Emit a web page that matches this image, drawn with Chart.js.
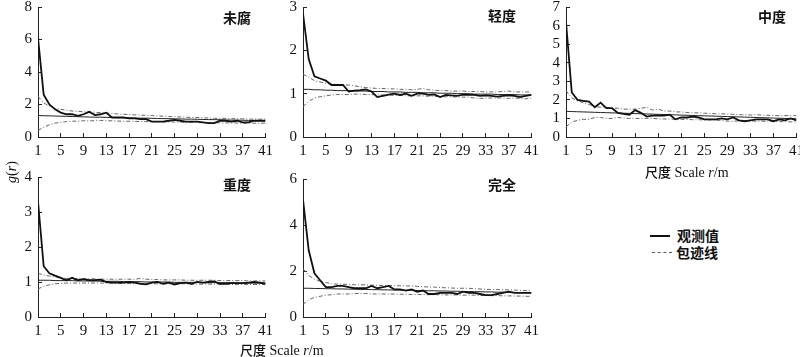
<!DOCTYPE html>
<html>
<head>
<meta charset="utf-8">
<script src="https://cdn.jsdelivr.net/npm/chart.js@4/dist/chart.umd.min.js"></script>
<style>
  html, body { margin: 0; padding: 0; background: #fff; }
  #wrap { position: relative; width: 800px; height: 357px; overflow: hidden; background: #fff; }
  canvas { position: absolute; }
  .t { position: absolute; color: #111; white-space: nowrap; }
  .ttl { font-family: "Noto Sans CJK SC", sans-serif; font-weight: 700; font-size: 14px; line-height: 16px; }
  .xt { font-family: "Liberation Serif", "Noto Sans CJK SC", serif; font-size: 14px; line-height: 16px; }
  .xt .cjk { font-family: "Noto Sans CJK SC", sans-serif; font-weight: 500; font-size: 13px; }
  .lg { font-family: "Noto Sans CJK SC", sans-serif; font-weight: 700; font-size: 14px; line-height: 16px; }
</style>
</head>
<body>
<div id="wrap">
  <canvas id="c1" width="282" height="172" style="left:0px;top:-12px"></canvas>
  <canvas id="c2" width="283" height="172" style="left:265px;top:-12px"></canvas>
  <canvas id="c3" width="283" height="172" style="left:530px;top:-12px"></canvas>
  <canvas id="c4" width="282" height="187" style="left:0px;top:158px"></canvas>
  <canvas id="c5" width="283" height="185" style="left:265px;top:160px"></canvas>

  <div class="t ttl" style="left:223px;top:9px">未腐</div>
  <div class="t ttl" style="left:488px;top:7px">轻度</div>
  <div class="t ttl" style="left:758px;top:8px">中度</div>
  <div class="t ttl" style="left:223px;top:176px">重度</div>
  <div class="t ttl" style="left:488px;top:176px">完全</div>

  <div class="t xt" style="left:0px;top:160px;width:22px;height:26px;">
    <div style="position:absolute;left:-8px;top:4px;width:40px;text-align:center;transform:rotate(-90deg);"><i>g</i>(<i>r</i>)</div>
  </div>
  <div class="t xt" style="left:645px;top:164px"><span class="cjk">尺度</span> Scale <i>r</i>/m</div>
  <div class="t xt" style="left:240px;top:342px"><span class="cjk">尺度</span> Scale <i>r</i>/m</div>

  <div style="position:absolute;left:650px;top:235px;width:20px;height:0;border-top:2px solid #111;"></div>
  <div class="t lg" style="left:677px;top:227px">观测值</div>
  <div style="position:absolute;left:652px;top:252px;width:20px;height:0;border-top:1px dashed #555;"></div>
  <div class="t lg" style="left:676px;top:244px">包迹线</div>
</div>
<script>
const r = [1,2,3,4,5,6,7,8,9,10,11,12,13,14,15,16,17,18,19,20,21,22,23,24,25,26,27,28,29,30,31,32,33,34,35,36,37,38,39,40,41];
const xTicks = [1,5,9,13,17,21,25,29,33,37,41];

// 未腐
const obs1 = [6.1,2.6,2.0,1.7,1.5,1.4,1.4,1.3,1.4,1.55,1.35,1.4,1.5,1.2,1.2,1.2,1.15,1.15,1.1,1.1,0.95,0.95,0.95,1.0,1.05,1.0,0.95,0.95,0.95,0.9,0.85,0.85,1.0,1.0,0.95,1.0,0.9,0.9,1.0,1.0,1.0];
const up1 = [2.5,2.1,1.9,1.75,1.7,1.65,1.6,1.58,1.55,1.55,1.52,1.5,1.48,1.45,1.42,1.4,1.38,1.36,1.35,1.33,1.32,1.3,1.28,1.26,1.25,1.23,1.22,1.2,1.2,1.18,1.17,1.15,1.15,1.14,1.13,1.12,1.12,1.1,1.1,1.1,1.1];
const lo1 = [0.4,0.6,0.75,0.85,0.9,0.95,0.97,0.98,1.0,1.0,1.0,1.02,1.0,1.0,0.98,0.97,0.97,0.96,0.95,0.95,0.95,0.94,0.93,0.93,0.92,0.92,0.9,0.9,0.9,0.88,0.88,0.88,0.87,0.87,0.86,0.86,0.85,0.85,0.85,0.85,0.85];
const th1 = [1.32,1.31,1.3,1.29,1.28,1.27,1.26,1.25,1.24,1.23,1.22,1.22,1.21,1.2,1.19,1.19,1.18,1.17,1.16,1.16,1.15,1.14,1.13,1.13,1.12,1.11,1.1,1.1,1.09,1.08,1.07,1.07,1.06,1.05,1.04,1.04,1.03,1.02,1.01,1.01,1.0];

// 轻度
const obs2 = [2.85,1.8,1.4,1.35,1.3,1.2,1.2,1.2,1.05,1.07,1.08,1.1,1.05,0.92,0.95,0.98,1.0,0.97,1.0,0.95,1.0,1.0,0.97,0.98,0.92,0.97,0.96,0.95,0.98,0.97,0.97,0.95,0.96,0.95,0.93,0.95,0.96,0.95,0.92,0.95,0.97];
const up2 = [1.45,1.38,1.3,1.27,1.24,1.22,1.21,1.2,1.2,1.18,1.16,1.14,1.13,1.12,1.12,1.11,1.11,1.1,1.1,1.09,1.1,1.12,1.09,1.08,1.07,1.07,1.06,1.06,1.06,1.05,1.05,1.05,1.04,1.04,1.04,1.05,1.06,1.04,1.04,1.04,1.04];
const lo2 = [0.7,0.82,0.9,0.93,0.95,0.97,0.98,0.98,0.98,0.99,0.99,0.98,0.98,0.97,0.97,0.97,0.96,0.96,0.95,0.95,0.95,0.95,0.94,0.94,0.93,0.93,0.93,0.92,0.92,0.92,0.9,0.89,0.9,0.9,0.9,0.9,0.89,0.9,0.89,0.88,0.9];
const th2 = [1.1,1.1,1.09,1.09,1.08,1.08,1.07,1.07,1.07,1.06,1.06,1.06,1.05,1.05,1.05,1.04,1.04,1.04,1.03,1.03,1.03,1.02,1.02,1.02,1.01,1.01,1.01,1.0,1.0,1.0,0.99,0.99,0.99,0.99,0.98,0.98,0.98,0.98,0.97,0.97,0.97];

// 中度
const obs3 = [6.2,2.4,2.0,1.95,1.9,1.6,1.85,1.55,1.55,1.3,1.25,1.2,1.45,1.3,1.1,1.15,1.15,1.15,1.2,0.95,1.05,1.05,1.1,1.05,0.95,0.95,0.95,1.0,0.95,1.05,0.9,0.85,0.9,0.95,0.95,0.95,0.85,0.95,0.9,1.0,0.9];
const up3 = [2.5,2.1,1.95,1.85,1.75,1.65,1.6,1.6,1.55,1.55,1.5,1.5,1.5,1.55,1.6,1.45,1.5,1.4,1.4,1.35,1.35,1.32,1.3,1.3,1.28,1.27,1.25,1.25,1.23,1.22,1.2,1.2,1.18,1.2,1.18,1.17,1.16,1.15,1.15,1.15,1.15];
const lo3 = [0.55,0.8,0.9,0.95,0.95,1.05,1.05,1.0,1.0,1.05,1.02,1.0,1.0,1.0,1.0,1.0,0.98,0.97,0.97,0.95,0.95,0.95,0.93,0.93,0.92,0.92,0.9,0.9,0.85,0.85,0.87,0.87,0.86,0.85,0.85,0.85,0.83,0.83,0.82,0.82,0.8];
const th3 = [1.38,1.37,1.36,1.35,1.34,1.33,1.32,1.31,1.3,1.29,1.28,1.27,1.26,1.25,1.24,1.23,1.22,1.21,1.2,1.19,1.18,1.17,1.16,1.15,1.14,1.13,1.12,1.11,1.1,1.09,1.08,1.07,1.06,1.05,1.04,1.03,1.02,1.01,1.0,0.99,0.98];

// 重度
const obs4 = [3.3,1.45,1.25,1.18,1.12,1.05,1.12,1.05,1.08,1.05,1.05,1.07,1.0,0.98,0.98,0.98,1.0,0.98,0.95,0.93,0.98,1.0,0.95,0.98,0.93,0.97,0.98,0.95,1.0,0.98,1.0,1.02,0.95,0.95,0.97,0.97,0.97,0.98,1.0,0.98,0.95];
const up4 = [1.25,1.2,1.17,1.15,1.12,1.1,1.1,1.1,1.09,1.09,1.09,1.08,1.08,1.08,1.08,1.08,1.08,1.08,1.1,1.08,1.07,1.07,1.06,1.06,1.06,1.06,1.05,1.05,1.05,1.05,1.05,1.05,1.04,1.04,1.04,1.04,1.04,1.03,1.03,1.03,1.03];
const lo4 = [0.8,0.88,0.92,0.95,0.96,0.97,0.97,0.97,0.97,0.97,0.97,0.97,0.97,0.97,0.96,0.96,0.96,0.96,0.96,0.95,0.95,0.95,0.95,0.95,0.95,0.95,0.95,0.94,0.94,0.94,0.94,0.94,0.94,0.94,0.93,0.93,0.93,0.93,0.93,0.93,0.93];
const th4 = [1.05,1.05,1.05,1.04,1.04,1.04,1.04,1.03,1.03,1.03,1.03,1.02,1.02,1.02,1.02,1.01,1.01,1.01,1.01,1.0,1.0,1.0,1.0,1.0,0.99,0.99,0.99,0.99,0.99,0.98,0.98,0.98,0.98,0.98,0.98,0.97,0.97,0.97,0.97,0.97,0.97];

// 完全
const obs5 = [5.1,2.9,1.9,1.6,1.3,1.3,1.35,1.35,1.3,1.25,1.25,1.25,1.35,1.25,1.3,1.35,1.2,1.2,1.15,1.2,1.1,1.15,1.0,1.0,1.05,1.05,1.05,1.0,1.1,1.05,1.05,1.0,0.95,0.95,1.0,1.05,1.1,1.05,1.05,1.05,1.05];
const up5 = [2.1,1.8,1.65,1.55,1.5,1.45,1.43,1.42,1.42,1.4,1.4,1.4,1.38,1.38,1.37,1.37,1.36,1.36,1.35,1.35,1.33,1.32,1.3,1.3,1.28,1.27,1.26,1.25,1.25,1.25,1.23,1.22,1.2,1.2,1.2,1.18,1.18,1.17,1.16,1.15,1.15];
const lo5 = [0.55,0.75,0.85,0.9,0.95,0.97,1.0,1.0,1.0,1.02,1.02,1.02,1.0,1.0,1.0,1.0,1.0,0.99,0.99,0.98,0.98,0.98,0.97,0.97,0.97,0.96,0.96,0.96,0.95,0.95,0.95,0.94,0.93,0.93,0.93,0.92,0.92,0.91,0.91,0.9,0.9];
const th5 = [1.25,1.25,1.24,1.24,1.23,1.23,1.22,1.22,1.21,1.21,1.2,1.2,1.19,1.19,1.18,1.18,1.17,1.17,1.16,1.16,1.15,1.15,1.14,1.14,1.13,1.13,1.12,1.12,1.11,1.11,1.1,1.1,1.09,1.09,1.08,1.08,1.07,1.07,1.06,1.06,1.05];

// y-axis ticks per panel
const yTicks1 = [0,2,4,6,8];
const yTicks2 = [0,1,2,3];
const yTicks3 = [0,1,2,3,4,5,6,7];
const yTicks4 = [0,1,2,3,4];
const yTicks5 = [0,2,4,6];

const axisColor = '#222';
const tickFont = { family: '"Liberation Serif", "Times New Roman", serif', size: 15 };

function makePanel(id, obs, up, lo, th, yTicks, layout) {
  const yMax = yTicks[yTicks.length - 1];
  const yStep = yTicks[1] - yTicks[0];
  new Chart(document.getElementById(id), {
    type: 'line',
    data: {
      labels: r,
      datasets: [
        { data: obs, borderColor: '#111', borderWidth: 1.8, pointRadius: 0, tension: 0, fill: false },
        { data: th, borderColor: '#222', borderWidth: 1, pointRadius: 0, tension: 0, fill: false },
        { data: up, borderColor: '#666', borderWidth: 1, borderDash: [4, 2, 1, 2], pointRadius: 0, tension: 0, fill: false },
        { data: lo, borderColor: '#666', borderWidth: 1, borderDash: [4, 2, 1, 2], pointRadius: 0, tension: 0, fill: false }
      ]
    },
    options: {
      responsive: false,
      animation: false,
      devicePixelRatio: 1,
      layout: { padding: layout.padding },
      plugins: { legend: { display: false }, tooltip: { enabled: false } },
      scales: {
        x: {
          type: 'linear', min: 1, max: 41,
          afterFit: (s) => { s.height = layout.xh; },
          afterBuildTicks: (s) => { s.ticks = xTicks.map(v => ({ value: v })); },
          grid: { drawOnChartArea: false, tickLength: -4, color: axisColor, lineWidth: 1 },
          border: { color: axisColor, width: 1 },
          ticks: { font: tickFont, color: '#111', padding: 9, maxRotation: 0, autoSkip: false }
        },
        y: {
          min: 0, max: yMax,
          afterFit: (s) => { s.width = layout.yw; },
          afterBuildTicks: (s) => { s.ticks = yTicks.map(v => ({ value: v })); },
          grid: { drawOnChartArea: false, tickLength: -4, color: axisColor, lineWidth: 1 },
          border: { color: axisColor, width: 1 },
          ticks: { font: tickFont, color: '#111', padding: 10, stepSize: yStep, autoSkip: false }
        }
      }
    }
  });
}

makePanel('c1', obs1, up1, lo1, th1, yTicks1, { padding: { top: 5, right: 10, left: 0, bottom: 0 }, yw: 38, xh: 23 });
makePanel('c2', obs2, up2, lo2, th2, yTicks2, { padding: { top: 5, right: 10, left: 0, bottom: 0 }, yw: 38, xh: 23 });
makePanel('c3', obs3, up3, lo3, th3, yTicks3, { padding: { top: 5, right: 10, left: 0, bottom: 0 }, yw: 36, xh: 23 });
makePanel('c4', obs4, up4, lo4, th4, yTicks4, { padding: { top: 10, right: 10, left: 0, bottom: 0 }, yw: 38, xh: 28 });
makePanel('c5', obs5, up5, lo5, th5, yTicks5, { padding: { top: 12, right: 10, left: 0, bottom: 0 }, yw: 38, xh: 28 });
</script>
</body>
</html>
